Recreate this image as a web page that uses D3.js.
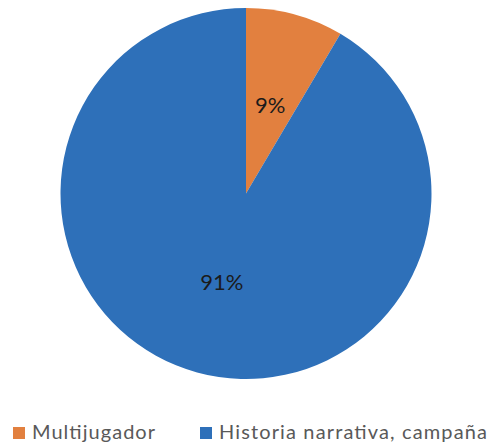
<!DOCTYPE html>
<html>
<head>
<meta charset="utf-8">
<script src="https://cdn.jsdelivr.net/npm/d3@7"></script>
<style>
  html, body { margin: 0; padding: 0; background: #fff; }
  svg { display: block; }
</style>
</head>
<body>
<svg id="chart" width="489" height="445"></svg>
<script>
const categories = ["Multijugador", "Historia narrativa, campaña"];
const values = [8.5, 91.5];
const labels = ["9%", "91%"];
const colors = ["#e2803f", "#2e70b9"];

const svg = d3.select("#chart");
const cx = 246, cy = 193.5, R = 185.5;

const pie = d3.pie().sort(null).value(d => d.v);
const arcs = pie(categories.map((c, i) => ({ c, v: values[i], i })));
const arc = d3.arc().innerRadius(0).outerRadius(R);
const labelArc = d3.arc().innerRadius(92).outerRadius(92);

const g = svg.append("g").attr("transform", `translate(${cx},${cy})`);
g.selectAll("path").data(arcs).enter().append("path")
  .attr("d", arc)
  .attr("fill", d => colors[d.data.i]);

g.selectAll("text.lbl").data(arcs).enter().append("text")
  .attr("class", "lbl")
  .attr("transform", d => `translate(${labelArc.centroid(d)})`)
  .attr("text-anchor", "middle")
  .attr("dy", "0.36em")
  .attr("font-family", "Lato, 'Open Sans', sans-serif")
  .attr("font-size", 22)
  .attr("fill", "#1b1b1b")
  .text((d, i) => labels[i]);

// legend
const legendItems = [
  { sx: 13, tx: 32, tl: 123 },
  { sx: 200, tx: 219, tl: 268 }
];
const lg = svg.append("g");
categories.forEach((c, i) => {
  const L = legendItems[i];
  lg.append("rect").attr("x", L.sx).attr("y", 427).attr("width", 12).attr("height", 12)
    .attr("fill", colors[i]);
  lg.append("text").attr("x", L.tx).attr("y", 439)
    .attr("font-family", "Lato, 'Open Sans', sans-serif")
    .attr("font-size", 20)
    .attr("fill", "#595959")
    .attr("textLength", L.tl)
    .attr("lengthAdjust", "spacing")
    .text(c);
});
</script>
</body>
</html>
